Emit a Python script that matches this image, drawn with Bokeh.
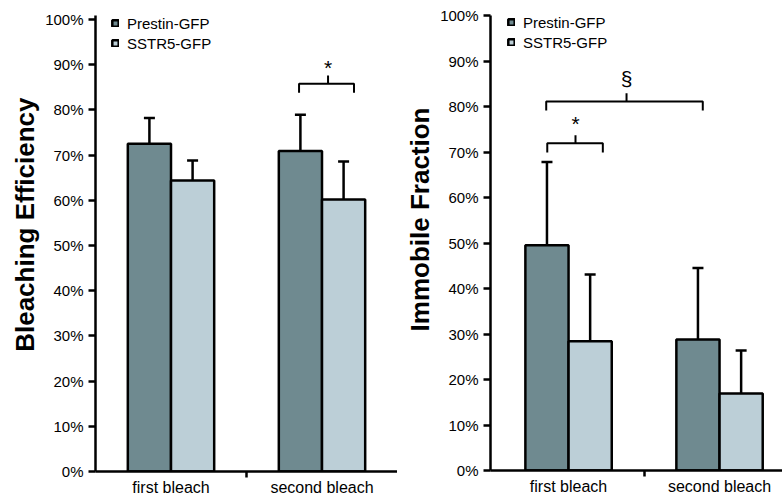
import numpy as np
from bokeh.plotting import figure
from bokeh.models import (Range1d, FixedTicker, PrintfTickFormatter, Legend,
                          LegendItem, ColumnDataSource, Title)
from bokeh.layouts import row
from bokeh.embed import file_html
from bokeh.resources import INLINE
from bokeh.core.properties import value

# ---------------- data ----------------
categories = ["first bleach", "second bleach"]
series = ["Prestin-GFP", "SSTR5-GFP"]
colors = ["#6f8a90", "#bccfd7"]

# Bleaching efficiency (%), mean and upper SD
bleach_prestin = [72.5, 70.9]
bleach_prestin_err = [5.7, 8.0]
bleach_sstr5 = [64.4, 60.2]
bleach_sstr5_err = [4.4, 8.4]

# Immobile fraction (%), mean and upper SD
immob_prestin = [49.5, 28.8]
immob_prestin_err = [18.3, 15.7]
immob_sstr5 = [28.4, 16.9]
immob_sstr5_err = [14.7, 9.5]

yticks = [0, 10, 20, 30, 40, 50, 60, 70, 80, 90, 100]

# significance brackets (x in category units, y in %)
bleach_sig_x0 = [0.848]
bleach_sig_x1 = [1.212]
bleach_sig_xm = [1.040]
bleach_sig_y = [85.8]
bleach_sig_label = ["*"]
bleach_sig_label_y = [89.4]

immob_sig_x0 = [-0.141, -0.148]
immob_sig_x1 = [0.227, 0.889]
immob_sig_xm = [0.046, 0.384]
immob_sig_y = [71.9, 81.1]
immob_sig_label = ["*", "§"]
immob_sig_label_y = [76.3, 86.2]

FONT = "Liberation Sans"
BAR_W = 0.286
OFFS = [-0.143, 0.143]


def panel(prestin, prestin_err, sstr5, sstr5_err, ylabel, ylabel_offset,
          x_start, x_end, y_end, fw, fh, b_left, b_top,
          sx0, sx1, sxm, sy, slab, sly, legend_loc):
    p = figure(frame_width=fw, frame_height=fh, title=None,
               x_range=Range1d(x_start, x_end), y_range=Range1d(0, y_end),
               output_backend="svg", toolbar_location=None,
               min_border_left=b_left, min_border_right=0,
               min_border_top=b_top, min_border_bottom=0)
    p.outline_line_color = None
    p.xgrid.visible = False
    p.ygrid.visible = False
    p.background_fill_color = "white"
    p.border_fill_color = "white"

    idx = np.arange(len(categories))
    rends = []
    for vals, errs, color, off in [(prestin, prestin_err, colors[0], OFFS[0]),
                                   (sstr5, sstr5_err, colors[1], OFFS[1])]:
        x = idx + off
        v = np.array(vals, dtype=float)
        e = np.array(errs, dtype=float)
        src = ColumnDataSource(dict(x=x, top=v, up=v + e))
        r = p.vbar(x="x", top="top", bottom=0, width=BAR_W, source=src,
                   fill_color=color, line_color="black", line_width=2.5)
        p.segment(x0="x", y0="top", x1="x", y1="up", source=src,
                  line_color="black", line_width=2.5)
        p.scatter(x="x", y="up", marker="dash", size=11, source=src,
                  line_color="black", line_width=2.5)
        rends.append(r)

    # significance brackets
    drop = 2.0
    rise = 1.8
    xs, ys = [], []
    for a, b, m, y in zip(sx0, sx1, sxm, sy):
        xs.append([a, a, b, b])
        ys.append([y - drop, y, y, y - drop])
        xs.append([m, m])
        ys.append([y, y + rise])
    p.multi_line(xs=xs, ys=ys, line_color="black", line_width=2)
    p.text(x=sxm, y=sly, text=slab, text_align="center",
           text_baseline="alphabetic", text_font=value(FONT),
           text_font_size="21px", text_color="black")

    # y axis
    ya = p.yaxis[0]
    ya.ticker = FixedTicker(ticks=yticks, minor_ticks=[])
    ya.formatter = PrintfTickFormatter(format="%d%%")
    ya.axis_line_width = 2.5
    ya.axis_line_color = "black"
    ya.major_tick_line_width = 2.5
    ya.major_tick_line_color = "black"
    ya.major_tick_out = 7
    ya.major_tick_in = 0
    ya.minor_tick_line_color = None
    ya.major_label_text_font = FONT
    ya.major_label_text_font_size = "15px"
    ya.major_label_text_color = "black"
    ya.major_label_standoff = 5

    # y-axis title, placed somewhat above the frame centre as in the figure
    p.add_layout(Title(text=ylabel, align="right", offset=ylabel_offset,
                       standoff=6, text_font=FONT, text_font_size="26px",
                       text_font_style="bold", text_color="black"), "left")

    # x axis
    xa = p.xaxis[0]
    xa.ticker = FixedTicker(ticks=list(idx.astype(float)),
                            minor_ticks=list((idx[:-1] + 0.5).astype(float)))
    xa.major_label_overrides = {int(i): c for i, c in zip(idx, categories)}
    xa.axis_line_width = 2.5
    xa.axis_line_color = "black"
    xa.major_tick_line_color = None
    xa.major_tick_out = 0
    xa.major_tick_in = 0
    xa.minor_tick_line_color = "black"
    xa.minor_tick_line_width = 2.5
    xa.minor_tick_out = 6
    xa.minor_tick_in = 0
    xa.major_label_text_font = FONT
    xa.major_label_text_font_size = "16px"
    xa.major_label_text_color = "black"
    xa.major_label_standoff = 1

    legend = Legend(items=[LegendItem(label=series[i], renderers=[rends[i]])
                           for i in range(2)],
                    location=legend_loc, glyph_width=8, glyph_height=8,
                    label_text_font=FONT, label_text_font_size="15px",
                    label_text_color="black", label_standoff=8,
                    label_height=20, padding=0, margin=0, spacing=0,
                    border_line_color=None, background_fill_alpha=0)
    p.add_layout(legend)
    return p


# both frames start at the same top (row aligns them); the left y range is
# extended slightly so that its 100% tick sits a few pixels lower
left = panel(bleach_prestin, bleach_prestin_err, bleach_sstr5, bleach_sstr5_err,
             "Bleaching Efficiency", 82, -0.5, 1.5, 100.885, 302, 456, 95, 15,
             bleach_sig_x0, bleach_sig_x1, bleach_sig_xm, bleach_sig_y,
             bleach_sig_label, bleach_sig_label_y, (16, 418))
right = panel(immob_prestin, immob_prestin_err, immob_sstr5, immob_sstr5_err,
              "Immobile Fraction", 92, -0.517, 1.417, 100.0, 292, 455, 93, 15,
              immob_sig_x0, immob_sig_x1, immob_sig_xm, immob_sig_y,
              immob_sig_label, immob_sig_label_y, (17, 418))

layout = row(left, right, spacing=0)
open("out.html", "w").write(file_html(layout, INLINE))
